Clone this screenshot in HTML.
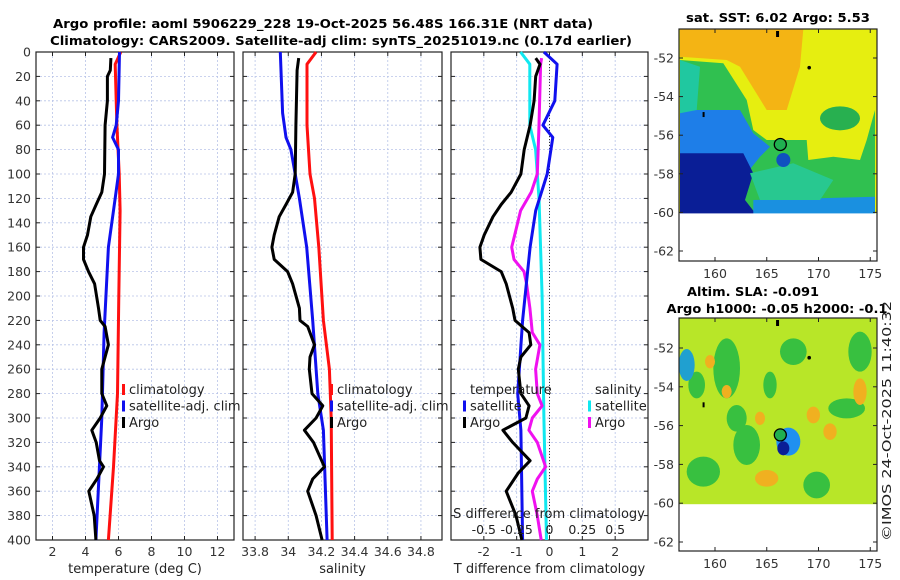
<!DOCTYPE html>
<html><head><meta charset="utf-8"><style>
body{margin:0;background:#fff;}
svg{display:block;font-family:"DejaVu Sans","Liberation Sans",sans-serif;}
</style></head><body>
<svg id="c" width="900" height="580" viewBox="0 0 900 580">
<rect width="900" height="580" fill="#fff"/>
<text x="323" y="28" text-anchor="middle" font-size="12" font-weight="bold" textLength="540" lengthAdjust="spacingAndGlyphs">Argo profile: aoml 5906229_228 19-Oct-2025 56.48S 166.31E (NRT data)</text>
<text x="341" y="45" text-anchor="middle" font-size="12" font-weight="bold" textLength="582" lengthAdjust="spacingAndGlyphs">Climatology: CARS2009. Satellite-adj clim: synTS_20251019.nc (0.17d earlier)</text>
<g id="plots"></g>
<g id="maps"></g>
<text transform="translate(891,541) rotate(-90)" font-size="12.5" fill="#222" textLength="240" lengthAdjust="spacingAndGlyphs">©IMOS 24-Oct-2025 11:40:32</text>
</svg>
<script>
// ---- data ----
const depthArgoT=[5,15,20,40,60,100,115,125,135,150,160,170,180,190,210,220,225,240,250,260,280,290,300,310,320,335,340,350,360,380,400];
const argoTemp=[5.54,5.5,5.33,5.33,5.19,5.15,4.99,4.65,4.32,4.12,3.88,3.88,4.18,4.55,4.79,4.89,5.19,5.39,5.19,4.99,4.99,5.29,4.89,4.38,4.65,4.85,5.09,4.69,4.2,4.53,4.63];
const depthClimT=[0,10,60,100,130,200,280,340,400];
const climTemp=[6.14,5.8,5.9,6.04,6.1,6.02,5.94,5.7,5.39];
const depthSatT=[0,40,60,70,80,100,130,160,230,300,400];
const satTemp=[6.06,6.0,5.86,5.64,6.0,6.0,5.7,5.39,5.13,4.99,4.63];

const depthArgoS=[5,15,60,100,115,125,135,150,160,170,180,190,210,220,225,240,250,260,280,290,300,310,320,340,350,360,380,400];
const argoSal=[34.063,34.053,34.046,34.042,34.026,33.986,33.945,33.915,33.901,33.915,33.996,34.026,34.067,34.071,34.117,34.158,34.131,34.127,34.143,34.208,34.168,34.097,34.152,34.218,34.147,34.117,34.168,34.204];
const depthClimS=[0,10,60,100,120,160,220,260,300,400];
const climSal=[34.168,34.113,34.113,34.131,34.158,34.184,34.212,34.248,34.259,34.265];
const depthSatS=[0,50,70,80,100,120,160,220,280,310,400];
const satSal=[33.952,33.966,33.986,34.016,34.042,34.067,34.111,34.147,34.178,34.212,34.234];

const depthDT=[5,10,20,40,60,80,100,115,125,135,150,160,170,180,190,210,220,230,240,250,260,280,290,300,310,320,335,345,360,380,400];
const argoTdiff=[-0.42,-0.29,-0.42,-0.47,-0.59,-0.77,-0.87,-1.17,-1.47,-1.72,-1.99,-2.12,-2.09,-1.47,-1.32,-1.12,-1.05,-0.62,-0.57,-0.87,-0.95,-0.87,-0.62,-0.72,-1.42,-1.12,-0.59,-0.95,-1.32,-1.02,-0.84];
const depthSatDT=[0,10,40,60,70,100,130,160,220,280,310,400];
const satTdiff=[-0.17,0.23,0.16,-0.2,0.1,-0.07,-0.42,-0.59,-0.82,-0.97,-0.87,-0.82];
const depthSatDS=[0,10,60,80,120,200,300,400];
const satSdiff=[-0.22,-0.15,-0.15,-0.106,-0.08,-0.056,-0.043,-0.023];
const depthDS=[5,10,60,100,115,130,150,160,170,180,190,210,230,240,260,280,290,300,310,320,340,350,360,380,400];
const argoSdiff=[-0.06,-0.068,-0.08,-0.093,-0.139,-0.22,-0.265,-0.288,-0.27,-0.194,-0.174,-0.149,-0.131,-0.073,-0.106,-0.093,-0.056,-0.131,-0.157,-0.093,-0.03,-0.093,-0.131,-0.093,-0.063];

const depthTicks=[0,20,40,60,80,100,120,140,160,180,200,220,240,260,280,300,320,340,360,380,400];
const tempTicks=[2,4,6,8,10,12];
const salTicks=[33.8,34,34.2,34.4,34.6,34.8];
const tdTicks=[-2,-1,0,1,2];
const sdTicks=[-0.5,-0.25,0,0.25,0.5];
const sdTickLabels=["-0.5","-0.25","0","0.25","0.5"];
const latTicks=[-52,-54,-56,-58,-60,-62];
const lonTicks=[160,165,170,175];

const NS='http://www.w3.org/2000/svg';
function mk(tag,attrs,parent,text){const e=document.createElementNS(NS,tag);for(const k in attrs)e.setAttribute(k,attrs[k]);if(text!==undefined)e.textContent=text;parent.appendChild(e);return e;}
const Y0=52,Y1=540;
const yD=d=>Y0+d*(Y1-Y0)/400;
function scale(d0,d1,p0,p1){return v=>p0+(v-d0)*(p1-p0)/(d1-d0);}
const xT=scale(1,13,36,234);
const xS=scale(33.727,34.927,243,442);
const xTD=scale(-3,3,451,648);
const xSD=scale(-0.75,0.75,451,648);
const plots=document.getElementById('plots');

function panel(name,x0,x1,ticks,xs,labels,xlabel){
  const g=mk('g',{},plots);
  
  
  depthTicks.forEach(d=>{const l=mk('line',{x1:x0,x2:x1,y1:yD(d),y2:yD(d),stroke:'#b8c4e8','stroke-width':0.8,'stroke-dasharray':'2,2'},g);
    
    mk('line',{x1:x0,x2:x0+4,y1:yD(d),y2:yD(d),stroke:'#222'},g);mk('line',{x1:x1-4,x2:x1,y1:yD(d),y2:yD(d),stroke:'#222'},g);});
  ticks.forEach((t,i)=>{const x=xs(t);const l=mk('line',{x1:x,x2:x,y1:Y0,y2:Y1,stroke:'#b8c4e8','stroke-width':0.8,'stroke-dasharray':'2,2'},g);
    
    mk('line',{x1:x,x2:x,y1:Y1,y2:Y1-4,stroke:'#222'},g);mk('line',{x1:x,x2:x,y1:Y0,y2:Y0+4,stroke:'#222'},g);
    if(labels){const tx=mk('text',{x:x,y:556,'text-anchor':'middle','font-size':12.5,fill:'#333'},g,labels[i]);}});
  const r=mk('rect',{x:x0,y:Y0,width:x1-x0,height:Y1-Y0,fill:'none',stroke:'#222','stroke-width':1.2},g);
  
  const xl=mk('text',{x:(x0+x1)/2,y:573,'text-anchor':'middle','font-size':13,fill:'#222'},g,xlabel);
  
  return g;
}
function line(g,xs,vals,depths,color,name){
  const p=vals.map((v,i)=>xs(v).toFixed(1)+','+yD(depths[i]).toFixed(1)).join(' ');
  const e=mk('polyline',{points:p,fill:'none',stroke:color,'stroke-width':3,'stroke-linejoin':'round'},g);
  
}
depthTicks.forEach(d=>{const t=mk('text',{x:31,y:yD(d)+4.5,'text-anchor':'end','font-size':12.5,fill:'#333'},plots,String(d));
  });

const g1=panel('temperature-panel',36,234,tempTicks,xT,tempTicks.map(String),'temperature (deg C)');
line(g1,xT,climTemp,depthClimT,'#ff1010','climatology-temp-line');
line(g1,xT,satTemp,depthSatT,'#1010ee','satellite-temp-line');
line(g1,xT,argoTemp,depthArgoT,'#000','argo-temp-line');
const g2=panel('salinity-panel',243,442,salTicks,xS,['33.8','34','34.2','34.4','34.6','34.8'],'salinity');
line(g2,xS,climSal,depthClimS,'#ff1010','climatology-sal-line');
line(g2,xS,satSal,depthSatS,'#1010ee','satellite-sal-line');
line(g2,xS,argoSal,depthArgoS,'#000','argo-sal-line');
const g3=panel('difference-panel',451,648,tdTicks,xTD,tdTicks.map(String),'T difference from climatology');
const zl=mk('line',{x1:xTD(0),x2:xTD(0),y1:Y0,y2:Y1,stroke:'#333','stroke-width':1,'stroke-dasharray':'1,2'},g3);

line(g3,xSD,satSdiff,depthSatDS,'#10e8f0','satellite-sdiff-line');
line(g3,xSD,argoSdiff,depthDS,'#f010f0','argo-sdiff-line');
line(g3,xTD,satTdiff,depthSatDT,'#1010ee','satellite-tdiff-line');
line(g3,xTD,argoTdiff,depthDT,'#000','argo-tdiff-line');
const st=mk('text',{x:549,y:518,'text-anchor':'middle','font-size':13,fill:'#222'},g3,'S difference from climatology');

sdTicks.forEach((t,i)=>{const e=mk('text',{x:xSD(t),y:534,'text-anchor':'middle','font-size':12.5,fill:'#222'},g3,sdTickLabels[i]);
  });

function legend(g,x,y,items,name){
  const lg=mk('g',{},g);
  items.forEach((it,i)=>{const yy=y+i*16.5;
    if(it[0])mk('rect',{x:x,y:yy-10,width:3,height:11,fill:it[0]},lg);
    mk('text',{x:x+7,y:yy,'font-size':13,fill:'#222'},lg,it[1]);});
}
legend(g1,122,394,[['#ff1010','climatology'],['#1010ee','satellite-adj. clim'],['#000','Argo']],'temp-legend');
legend(g2,330,394,[['#ff1010','climatology'],['#1010ee','satellite-adj. clim'],['#000','Argo']],'sal-legend');
legend(g3,463,394,[[null,'temperature'],['#1010ee','satellite'],['#000','Argo']],'tdiff-legend');
legend(g3,588,394,[[null,'salinity'],['#10e8f0','satellite'],['#f010f0','Argo']],'sdiff-legend');

// ---- maps ----
const maps=document.getElementById('maps');
function zp(pts,oy){return pts.map(p=>(660+p[0]/3).toFixed(1)+','+(oy+p[1]/3).toFixed(1)).join(' ');}
function mapGroup(name){const g=mk('g',{},maps);return g;}
function finishMap(g,top,bot,lat52,lat62){
  const ly=l=>lat52+(l+52)*(lat62-lat52)/(-10);
  const lx=l=>715+(l-160)*10.35;
  mk('rect',{x:679,y:ly(-60)+1,width:198,height:bot-ly(-60)-1,fill:'#fff'},g);
  latTicks.forEach(l=>{const y=ly(l);mk('line',{x1:679,x2:683,y1:y,y2:y,stroke:'#222'},g);mk('line',{x1:873,x2:877,y1:y,y2:y,stroke:'#222'},g);
    const t=mk('text',{x:674,y:y+4.5,'text-anchor':'end','font-size':12.5,fill:'#333'},g,String(l));});
  lonTicks.forEach(l=>{const x=lx(l);mk('line',{x1:x,x2:x,y1:bot,y2:bot-4,stroke:'#222'},g);mk('line',{x1:x,x2:x,y1:top,y2:top+4,stroke:'#222'},g);
    const t=mk('text',{x:x,y:bot+17,'text-anchor':'middle','font-size':12.5,fill:'#333'},g,String(l));});
  mk('rect',{x:679,y:top,width:198,height:bot-top,fill:'none',stroke:'#222','stroke-width':1.2},g);
  const c=mk('circle',{cx:lx(166.31),cy:ly(-56.48),r:6,fill:'#20b050',stroke:'#000','stroke-width':1.3},g);
  
  mk('circle',{cx:lx(169.1),cy:ly(-52.5),r:1.8,fill:'#000'},g);
  mk('rect',{x:lx(165.9),y:top+2,width:3,height:6,fill:'#000'},g);
  mk('rect',{x:lx(158.8),y:ly(-54.8),width:2,height:5,fill:'#000'},g);
}
// SST map
const m1=mapGroup('sst-map');
const t1=mk('text',{x:778,y:22,'text-anchor':'middle','font-size':12.5,'font-weight':'bold',textLength:184,lengthAdjust:'spacingAndGlyphs'},m1,'sat. SST: 6.02 Argo: 5.53');

mk('rect',{x:679,y:29,width:198,height:186,fill:'#e6ee10'},m1);
mk('polygon',{points:zp([[60,88],[430,88],[420,200],[380,330],[320,330],[240,200],[200,180],[60,170]],0),fill:'#f4b414'},m1);
mk('polygon',{points:zp([[60,180],[190,190],[260,300],[280,390],[320,420],[440,420],[445,480],[520,470],[600,480],[620,420],[645,330],[645,645],[60,645]],0),fill:'#30c050'},m1);
mk('polygon',{points:zp([[60,330],[240,330],[280,400],[330,440],[300,470],[260,520],[250,645],[60,645]],0),fill:'#1e7ee8'},m1);
mk('polygon',{points:zp([[60,460],[250,460],[280,520],[255,600],[290,645],[60,645]],0),fill:'#0a1e96'},m1);
mk('polygon',{points:zp([[280,600],[645,590],[645,645],[280,645]],0),fill:'#1a90e0'},m1);
mk('polygon',{points:zp([[270,520],[400,490],[520,540],[480,600],[300,600]],0),fill:'#28c890'},m1);
mk('ellipse',{cx:660+540/3,cy:355/3,rx:20,ry:12,fill:'#28b050'},m1);
mk('ellipse',{cx:660+370/3,cy:480/3,rx:7,ry:7,fill:'#1050c0'},m1);
mk('polygon',{points:zp([[60,180],[120,200],[110,330],[60,340]],0),fill:'#20c8a0'},m1);
finishMap(m1,29,261,58,251);
// SLA map
const m2=mapGroup('sla-map');
const t2=mk('text',{x:753,y:296,'text-anchor':'middle','font-size':12.5,'font-weight':'bold',textLength:132,lengthAdjust:'spacingAndGlyphs'},m2,'Altim. SLA: -0.091');

const t3=mk('text',{x:777,y:313,'text-anchor':'middle','font-size':12.5,'font-weight':'bold',textLength:221,lengthAdjust:'spacingAndGlyphs'},m2,'Argo h1000: -0.05 h2000: -0.1');

mk('rect',{x:679,y:318,width:198,height:187,fill:'#b8e628'},m2);
const gb=[[200,250,40,90],[260,480,40,60],[130,560,50,45],[560,370,55,30],[470,600,40,40],[600,200,35,60],[400,200,40,40],[230,400,30,40],[110,300,25,40],[330,300,20,40]];
gb.forEach(b=>mk('ellipse',{cx:660+b[0]/3,cy:285+b[1]/3,rx:b[2]/3,ry:b[3]/3,fill:'#38c040'},m2));
const ob=[[320,580,35,25],[600,320,20,40],[460,390,20,25],[510,440,20,25],[300,400,15,20],[200,320,15,20],[150,230,15,20]];
ob.forEach(b=>mk('ellipse',{cx:660+b[0]/3,cy:285+b[1]/3,rx:b[2]/3,ry:b[3]/3,fill:'#f0b020'},m2));
mk('ellipse',{cx:660+80/3,cy:285+240/3,rx:8,ry:16,fill:'#20a0d0'},m2);
mk('ellipse',{cx:660+385/3,cy:285+470/3,rx:12,ry:14,fill:'#2090f0'},m2);
mk('ellipse',{cx:660+370/3,cy:285+490/3,rx:6,ry:7,fill:'#0a1e96'},m2);
finishMap(m2,318,551,348,542);
</script>
</body></html>
